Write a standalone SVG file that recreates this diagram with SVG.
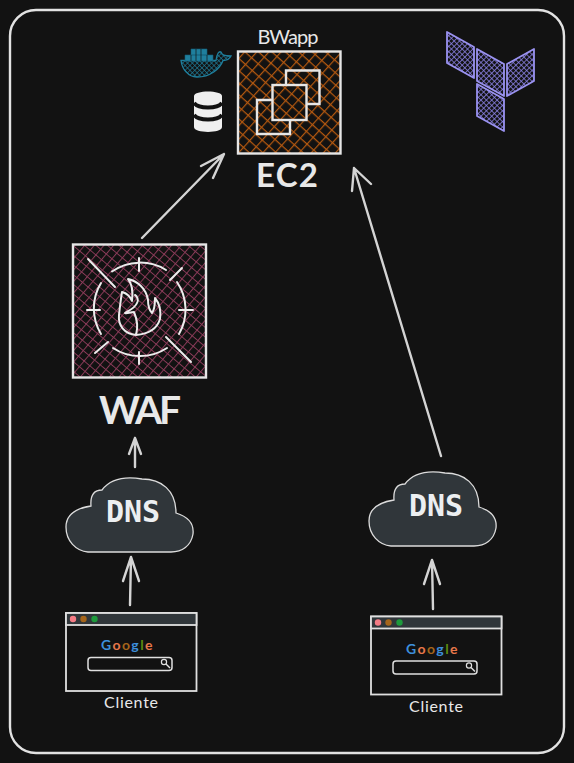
<svg xmlns="http://www.w3.org/2000/svg" width="574" height="763" viewBox="0 0 574 763">
<style>
.hand{font-family:"Lato","Noto Sans",sans-serif;fill:#e8e8e8}
.mono{font-family:"DejaVu Sans Mono","Liberation Mono",monospace;font-weight:700;fill:#eceff1;font-size:30px;text-anchor:middle}
.box{fill:none;stroke:#e6e6e6;stroke-width:2.4}
.arrow{fill:none;stroke:#d4d4d4;stroke-width:2.4;stroke-linecap:round;stroke-linejoin:round}
.white{fill:none;stroke:#ececec;stroke-width:2;stroke-linecap:round;stroke-linejoin:round}
.cloud{fill:#30363a;stroke:#dcdcdc;stroke-width:1.3}
.frame{fill:#121212;stroke:#e0e0e0;stroke-width:1.8}
</style>
<defs>
<pattern id="hEc2" width="9" height="9" patternUnits="userSpaceOnUse" patternTransform="rotate(42)"><path d="M0 0H9M0 0V9" stroke="#b4580f" stroke-width="2.4" fill="none"/></pattern>
<pattern id="hWaf" width="7.400" height="7.400" patternUnits="userSpaceOnUse" patternTransform="rotate(40)"><path d="M0 0H7.400M0 0V7.400" stroke="#8a3a58" stroke-width="2" fill="none"/></pattern>
<pattern id="hTf" width="3.800" height="3.800" patternUnits="userSpaceOnUse" patternTransform="rotate(45)"><path d="M0 0H3.800M0 0V3.800" stroke="#8d84ea" stroke-width="1.500" fill="none"/></pattern>
<pattern id="hWh" width="3.400" height="3.400" patternUnits="userSpaceOnUse" patternTransform="rotate(45)"><path d="M0 0H3.400M0 0V3.400" stroke="#1f7f9d" stroke-width="1.200" fill="none"/></pattern>
<path id="cloudShape" d="M88 552C76 551 66 541 66 527C66 513 78 508 91 506C90 494 95 490 102 490C112 477 130 477 142 479C161 479 176 490 176 513C189 517 194 525 193 534C191 546 182 552 171 552Z"/>
</defs>
<rect width="574" height="763" fill="#121212"/>
<rect x="10" y="10" width="554" height="743" rx="26" fill="none" stroke="#e2e2e2" stroke-width="2.400"/>

<g id="connectors">
<path class="arrow" d="M142 238L224 154M201 166L224 154L213 178"/>
<path class="arrow" d="M441 456L354 168M352 191L354 168L371 184"/>
<path class="arrow" d="M135 467L135 438M129 454L135 438L141 454"/>
<path class="arrow" d="M130 605L131 557M123 581L131 557L139 581"/>
<path class="arrow" d="M433 609L432 560M424 584L432 560L440 584"/>
</g>

<g id="terraform">
<path d="M447 32L474 47V78L447 63Z M477 49L504 64V96L477 81Z M507 64L534 49V81L507 96Z M477 84L504 99V131L477 116Z" fill="url(#hTf)" stroke="#9a92f0" stroke-width="1.800" stroke-linejoin="round"/>
</g>

<g id="docker">
<path d="M181 60.500H216C217 53 219 51 221 52C222 55 224 56 231 56C229 60 225 60.500 223 60.500C220 69 210 77 197 77C188 77 182 69 181 60.500Z" fill="url(#hWh)" stroke="#1f7f9d" stroke-width="1.300"/>
<path d="M185 55h28v6h-28zM191 49h16v6h-16z" fill="#1f7f9d" stroke="#145f78" stroke-width=".6"/>
<path d="M196 49v6M201 49v6M191 55v6M196 55v6M201 55v6M207 55v6" stroke="#121212" stroke-width=".7"/>
</g>

<g id="database">
<path d="M194 96C194 90 222 90 222 96V127C222 133.500 194 133.500 194 127Z" fill="#efefef"/>
<path d="M194 103C199 109 217 109 222 103M194 115C199 121 217 121 222 115" fill="none" stroke="#121212" stroke-width="4"/>
</g>

<g id="ec2">
<rect x="238" y="51.500" width="102.500" height="102" fill="url(#hEc2)"/>
<rect class="box" x="238" y="51.500" width="102.500" height="102"/>
<path class="box" d="M286 85V70.500H319.500V104H306M272 100H257V134H290V120"/>
<rect class="box" x="272.500" y="85" width="34" height="35"/>
<text class="hand" x="288" y="44" font-size="20" text-anchor="middle" textLength="61" lengthAdjust="spacing">BWapp</text>
<text class="hand" x="287" y="187" font-size="33" font-weight="700" text-anchor="middle" textLength="62" lengthAdjust="spacing">EC2</text>
</g>

<g id="waf">
<rect x="73" y="244.500" width="133" height="133" fill="url(#hWaf)"/>
<rect class="box" x="73" y="244.500" width="133" height="133"/>
<g class="white">
<path d="M88 259L115 287M170 280L182 268M95 353L108 342M166 337L191 362"/>
<path d="M112 271.500A49 49 0 0 1 166 270M177 282A49 49 0 0 1 179 334M167 348A49 49 0 0 1 113 348M101 334A49 49 0 0 1 101 283"/>
<path d="M139 258V271M139 352V364M87 310H100M179 310H193"/>
<path d="M136 335C124 334 118 325 119 315C120 306 121 298 122 292C126 293 130 296 132 301C133 293 133 285 128 279C137 281 146 288 148 300C148 306 149 310 152 313C155 309 155 303 155 298C160 304 161 312 160 319C157 329 148 334 136 335ZM136 335C138 328 137 319 134 312C130 312 127 314 125 313C130 310 135 308 137 303C139 300 137 296 135 295"/>
</g>
<text class="hand" x="140" y="424" font-size="39" font-weight="700" text-anchor="middle" textLength="82" lengthAdjust="spacing">WAF</text>
</g>

<g id="dns-left">
<use href="#cloudShape" class="cloud"/>
<text class="mono" x="133" y="522">DNS</text>
</g>
<g id="dns-right">
<use href="#cloudShape" class="cloud" transform="translate(303,-6)"/>
<text class="mono" x="436" y="516">DNS</text>
</g>

<g id="browser-left">
<rect class="frame" x="66" y="613" width="130.500" height="78"/>
<rect x="66" y="613" width="130.500" height="12" fill="#30363a" stroke="#e0e0e0" stroke-width="1.800"/>
<circle cx="73" cy="619" r="3.200" fill="#f47c85"/><circle cx="83.500" cy="619" r="3.200" fill="#a5651b"/><circle cx="94.500" cy="619" r="3.200" fill="#1e9a3c"/>
<text class="hand" x="101" y="650" font-size="14" font-weight="700" letter-spacing="1.400"><tspan fill="#3d8fdb">G</tspan><tspan fill="#e8784a">o</tspan><tspan fill="#a5651b">o</tspan><tspan fill="#3d8fdb">g</tspan><tspan fill="#5b8a10">l</tspan><tspan fill="#e8784a">e</tspan></text>
<rect x="88" y="657.500" width="84" height="13" rx="3" fill="none" stroke="#e0e0e0" stroke-width="1.500"/>
<circle cx="164" cy="662" r="2.600" fill="none" stroke="#e0e0e0" stroke-width="1.200"/><path d="M166 664L170 668" stroke="#e0e0e0" stroke-width="1.400"/>
<text class="hand" x="131" y="708" font-size="16" text-anchor="middle" textLength="54" lengthAdjust="spacing">Cliente</text>
</g>
<g id="browser-right">
<rect class="frame" x="371" y="616.500" width="130.500" height="78"/>
<rect x="371" y="616.500" width="130.500" height="12" fill="#30363a" stroke="#e0e0e0" stroke-width="1.800"/>
<circle cx="378" cy="622.500" r="3.200" fill="#f47c85"/><circle cx="388.500" cy="622.500" r="3.200" fill="#a5651b"/><circle cx="399.500" cy="622.500" r="3.200" fill="#1e9a3c"/>
<text class="hand" x="406" y="653.500" font-size="14" font-weight="700" letter-spacing="1.400"><tspan fill="#3d8fdb">G</tspan><tspan fill="#e8784a">o</tspan><tspan fill="#a5651b">o</tspan><tspan fill="#3d8fdb">g</tspan><tspan fill="#5b8a10">l</tspan><tspan fill="#e8784a">e</tspan></text>
<rect x="393" y="661" width="84" height="13" rx="3" fill="none" stroke="#e0e0e0" stroke-width="1.500"/>
<circle cx="469" cy="665.500" r="2.600" fill="none" stroke="#e0e0e0" stroke-width="1.200"/><path d="M471 667.500L475 671.500" stroke="#e0e0e0" stroke-width="1.400"/>
<text class="hand" x="436" y="712" font-size="16" text-anchor="middle" textLength="54" lengthAdjust="spacing">Cliente</text>
</g>
</svg>
